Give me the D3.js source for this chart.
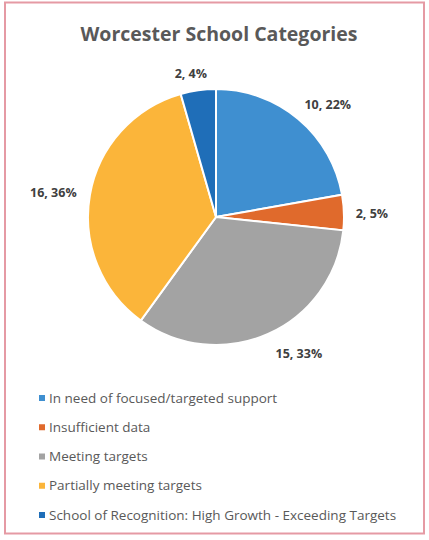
<!DOCTYPE html>
<html>
<head>
<meta charset="utf-8">
<script src="https://cdn.jsdelivr.net/npm/d3@7"></script>
<style>
  html, body { margin: 0; padding: 0; background: #fff; }
  svg { display: block; font-family: "Open Sans", "Liberation Sans", sans-serif; }
</style>
</head>
<body>
<div id="chart"></div>
<script>
// ── Data ───────────────────────────────────────────────────────────────────
const categories = [
  "In need of focused/targeted support",
  "Insufficient data",
  "Meeting targets",
  "Partially meeting targets",
  "School of Recognition: High Growth - Exceeding Targets",
];
const counts = [10, 2, 15, 16, 2];
const labels = ["10, 22%", "2, 5%", "15, 33%", "16, 36%", "2, 4%"];
const colors = ["#3f8fd0", "#e06a2c", "#a3a3a3", "#fbb53a", "#1f6eb8"];

// ── Dimensions ─────────────────────────────────────────────────────────────
const width = 429, height = 540;
const cx = 216, cy = 217, radius = 128;

const svg = d3.select("#chart").append("svg")
  .attr("width", width)
  .attr("height", height);

// frame
svg.append("rect")
  .attr("x", 5).attr("y", 2.5)
  .attr("width", 419).attr("height", 531)
  .attr("fill", "#fff")
  .attr("stroke", "#e59aa4")
  .attr("stroke-width", 2);

// title
svg.append("text")
  .attr("x", 219).attr("y", 41)
  .attr("text-anchor", "middle")
  .attr("font-size", 19.5)
  .attr("font-weight", 700)
  .attr("fill", "#595959")
  .text("Worcester School Categories");

// ── Pie ────────────────────────────────────────────────────────────────────
const pie = d3.pie().sort(null).value(d => d);
const arcs = pie(counts);
const arc = d3.arc().innerRadius(0).outerRadius(radius);
const labelArc = d3.arc().innerRadius(radius + 24).outerRadius(radius + 24);

const g = svg.append("g").attr("transform", `translate(${cx},${cy})`);

g.selectAll("path.slice")
  .data(arcs)
  .join("path")
  .attr("class", "slice")
  .attr("d", arc)
  .attr("fill", (d, i) => colors[i])
  .attr("stroke", "#fff")
  .attr("stroke-width", 2);

// Excel-style outside-end labels
const labelNudge = [[14, 4], [4, 2], [21, -2], [-13, 2], [-4, 7]];
g.selectAll("text.lbl")
  .data(arcs)
  .join("text")
  .attr("class", "lbl")
  .attr("transform", (d, i) => {
    const [x, y] = labelArc.centroid(d);
    return `translate(${x + labelNudge[i][0]},${y + labelNudge[i][1]})`;
  })
  .attr("text-anchor", "middle")
  .attr("dy", "0.35em")
  .attr("font-size", 12.5)
  .attr("font-weight", 700)
  .attr("fill", "#404040")
  .text((d, i) => labels[i]);

// ── Legend ─────────────────────────────────────────────────────────────────
const legendY = d3.scalePoint().domain(categories).range([398, 515]);

const legend = svg.append("g").selectAll("g")
  .data(categories)
  .join("g")
  .attr("transform", d => `translate(39,${legendY(d)})`);

legend.append("rect")
  .attr("x", 0).attr("y", -3)
  .attr("width", 6).attr("height", 6)
  .attr("fill", (d, i) => colors[i]);

legend.append("text")
  .attr("x", 10)
  .attr("dy", "0.35em")
  .attr("font-size", 13.5)
  .attr("fill", "#595959")
  .text(d => d);
</script>
</body>
</html>
